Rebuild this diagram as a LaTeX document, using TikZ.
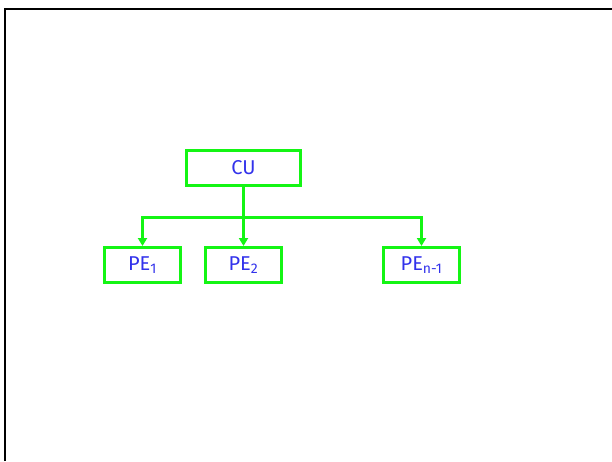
\documentclass[tikz,border=0pt]{standalone}
\usepackage{fontspec}
\setmainfont{Fira Sans}
\usetikzlibrary{arrows.meta}
\definecolor{boxgreen}{RGB}{20,245,20}
\definecolor{labelblue}{RGB}{50,50,235}

\begin{document}
\begin{tikzpicture}[x=1pt,y=-1pt,
		unit/.style={draw=boxgreen,line width=3pt,minimum height=35pt,
			text=labelblue,font=\fontsize{20}{22}\selectfont,inner sep=0pt},
		bus/.style={draw=boxgreen,line width=3pt},
		feed/.style={bus,-{Triangle[width=9pt,length=8pt]}}]
		\useasboundingbox (0,0) rectangle (612,461);
		\draw [black,line width=2pt] (5,461) -- (5,9) -- (612,9);
		\node [unit,minimum width=114pt] (cu) at (243.5,168) {CU};
		\node [unit,minimum width=76pt] (pe1) at (142.5,265) {PE\textsubscript{1}};
		\node [unit,minimum width=76pt] (pe2) at (243.5,265) {PE\textsubscript{2}};
		\node [unit,minimum width=76pt] (pen) at (421.5,265) {PE\textsubscript{n-1}};
		\coordinate (fork) at (cu.south |- 0,217);
		\draw [feed] (cu.south) -- (pe2.north);
		\draw [feed] (fork) -| (pe1.north);
		\draw [feed] (fork) -| (pen.north);
	\end{tikzpicture}
\end{document}
